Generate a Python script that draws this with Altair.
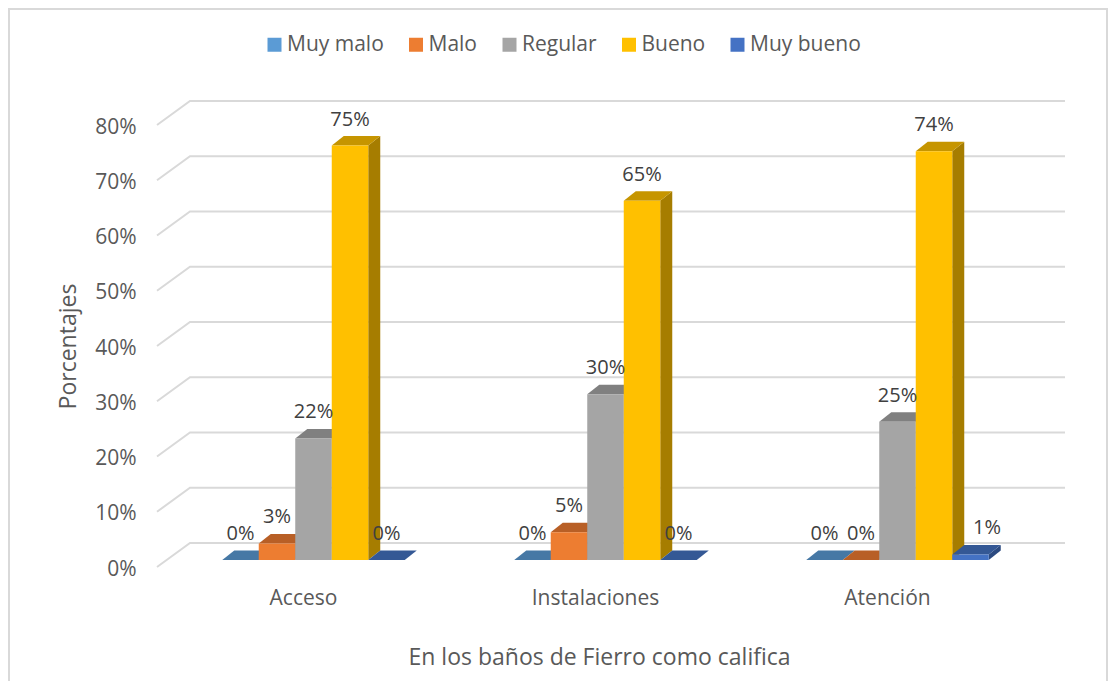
import altair as alt
import pandas as pd

# ---- values
categories = ["Acceso", "Instalaciones", "Atención"]
series = ["Muy malo", "Malo", "Regular", "Bueno", "Muy bueno"]
muy_malo = [0, 0, 0]
malo = [3, 5, 0]
regular = [22, 30, 25]
bueno = [75, 65, 74]
muy_bueno = [0, 0, 1]
y_ticks = [0, 10, 20, 30, 40, 50, 60, 70, 80]

front_colors = ["#5B9BD5", "#ED7D31", "#A5A5A5", "#FFC000", "#4472C4"]
top_colors = ["#4678A5", "#B85F26", "#808080", "#C69500", "#345895"]
side_colors = ["#3B6690", "#A04F1F", "#6E6E6E", "#A67D00", "#2B4A80"]

FONT = "Open Sans"
TXT = "#595959"

# ---- 3D construction, in scale units (one unit = one bar width / one percent)
PX_U = 36.5
PX_V = 5.52
WALL_DU, WALL_DV = 33 / PX_U, 24 / PX_V      # floor depth
BAR_DU, BAR_DV = 12 / PX_U, 9.5 / PX_V       # bar depth
OFF_DU, OFF_DV = 10.5 / PX_U, 7 / PX_V       # bar inset on the floor
X_MAX = 908 / PX_U
GROUP = 8
W, H = 908, 442

columns = [muy_malo, malo, regular, bueno, muy_bueno]
front, side, top, labels = [], [], [], []
for g, cat in enumerate(categories):
    for s, name in enumerate(series):
        v = columns[s][g]
        xl = g * GROUP + 1.5 + s + OFF_DU
        xr = xl + 1
        base = OFF_DV
        tp = base + v
        key = f"{g}-{s}"
        front.append(dict(x=xl, x2=xr, y=base, y2=tp, serie=name))
        side.append(dict(k=key, x=xr, y=base, y2=tp, c=side_colors[s]))
        side.append(dict(k=key, x=xr + BAR_DU, y=base + BAR_DV, y2=tp + BAR_DV, c=side_colors[s]))
        top.append(dict(k=key, y=tp, x=xl, x2=xr, c=top_colors[s]))
        top.append(dict(k=key, y=tp + BAR_DV, x=xl + BAR_DU, x2=xr + BAR_DU, c=top_colors[s]))
        nudge = 0.45 if v == 1 else 0
        labels.append(dict(x=(xl + xr) / 2 + nudge, y=tp, t=f"{v}%"))

grid = []
for t in y_ticks:
    grid.append(dict(t=t, x=0, y=t))
    grid.append(dict(t=t, x=WALL_DU, y=t + WALL_DV))
    grid.append(dict(t=t, x=X_MAX, y=t + WALL_DV))

xs = alt.Scale(domain=[0, X_MAX], nice=False, zero=False)
ys = alt.Scale(domain=[0, 80], nice=False, zero=False)
no_x = alt.X("x:Q", scale=xs)
no_y = alt.Y("y:Q", scale=ys, stack=None)

border = alt.Chart(pd.DataFrame({"a": [0]})).mark_rect(
    fillOpacity=0, stroke="#D9D9D9", strokeWidth=2, clip=False
).encode(
    x=alt.value(-148), x2=alt.value(950), y=alt.value(-116), y2=alt.value(600)
)

grid_layer = alt.Chart(pd.DataFrame(grid)).mark_line(
    color="#D9D9D9", strokeWidth=2, clip=False
).encode(
    x=alt.X("x:Q", scale=xs,
            axis=alt.Axis(values=[4, 12, 20], domain=False, ticks=False, grid=False,
                          labelExpr="datum.value == 4 ? 'Acceso' : datum.value == 12 ? 'Instalaciones' : 'Atención'",
                          labelFont=FONT, labelFontSize=21, labelColor=TXT, labelPadding=20,
                          title="En los baños de Fierro como califica",
                          titleFont=FONT, titleFontSize=23, titleFontWeight="normal", titleColor=TXT,
                          titleX=442, titleY=79, titleAnchor="middle", titleAlign="center")),
    y=alt.Y("y:Q", scale=ys,
            axis=alt.Axis(values=y_ticks, domain=False, ticks=False, grid=False,
                          labelExpr="datum.value + '%'",
                          labelFont=FONT, labelFontSize=21, labelColor=TXT, labelPadding=21,
                          labelOffset=2,
                          title="Porcentajes",
                          titleFont=FONT, titleFontSize=23, titleFontWeight="normal", titleColor=TXT,
                          titleX=-77, titleY=221, titleAnchor="middle")),
    detail="t:N",
)

side_layer = alt.Chart(pd.DataFrame(side)).mark_area(orient="vertical", clip=False).encode(
    x=no_x, y=no_y, y2="y2:Q", detail="k:N", fill=alt.Fill("c:N", scale=None)
)

top_layer = alt.Chart(pd.DataFrame(top)).mark_area(orient="horizontal", clip=False).encode(
    y=alt.Y("y:Q", scale=ys), x=alt.X("x:Q", scale=xs, stack=None),
    x2="x2:Q", detail="k:N", fill=alt.Fill("c:N", scale=None)
)

front_layer = alt.Chart(pd.DataFrame(front)).mark_rect(clip=False).encode(
    x=no_x, x2="x2:Q", y=no_y, y2="y2:Q",
    color=alt.Color("serie:N", scale=alt.Scale(domain=series, range=front_colors),
                    legend=alt.Legend(orient="none", legendX=107, legendY=-91, direction="horizontal",
                                      columns=5, title=None, symbolType="square", symbolSize=196,
                                      symbolStrokeWidth=0, labelFont=FONT, labelFontSize=21,
                                      labelColor=TXT, labelOffset=2, columnPadding=21.5)),
)

label_layer = alt.Chart(pd.DataFrame(labels)).mark_text(
    font=FONT, fontSize=20, color="#404040", dy=-26, clip=False
).encode(x=no_x, y=no_y, text="t:N")

chart = alt.layer(border, grid_layer, side_layer, top_layer, front_layer, label_layer).resolve_scale(
    fill="independent"
).properties(
    width=W, height=H, background="white",
    padding={"left": 149, "top": 117, "right": 43, "bottom": 114},
    autosize=alt.AutoSizeParams(type="none"),
).configure_view(stroke=None)

chart.save("out.html", embed_options={"renderer": "svg", "actions": False})
